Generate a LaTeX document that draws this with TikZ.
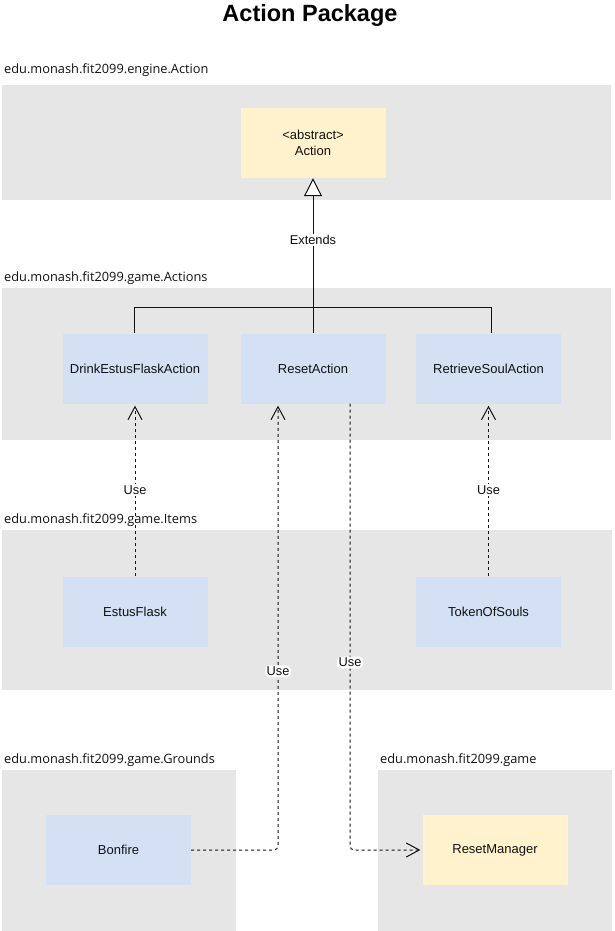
\documentclass[tikz,border=0pt]{standalone}
\usepackage{fontspec}
\setmainfont{Liberation Sans}
\newfontfamily\pkgfont{Open Sans}
\usetikzlibrary{arrows.meta}

\definecolor{pkggray}{HTML}{E6E6E6}
\definecolor{clsblue}{HTML}{D4E1F5}
\definecolor{clsyellow}{HTML}{FFF2CC}
\definecolor{ink}{HTML}{111111}

\tikzset{
  pkg/.style={fill=pkggray, draw=none, inner sep=0pt},
  pkglabel/.style={anchor=west, inner sep=0pt, font=\pkgfont\fontsize{12.8}{15}\selectfont, text=ink},
  cls/.style={draw=none, minimum width=145pt, minimum height=70pt, inner sep=0pt,
    align=center, font=\fontsize{13}{15.5}\selectfont, text=ink},
  blue/.style={cls, fill=clsblue},
  yellow/.style={cls, fill=clsyellow},
  solidline/.style={draw=ink, line width=1pt},
  extendsline/.style={solidline, -{Triangle[open, length=18pt, width=18pt, line width=1pt, fill=white]}},
  useline/.style={draw=ink, line width=1pt, dash pattern=on 3pt off 3pt,
    -{Straight Barb[length=13pt, width=14pt, line width=1pt]}, shorten >=2pt},
  edgelabel/.style={fill=white, inner sep=1.5pt, font=\fontsize{12.8}{15}\selectfont, text=ink}
}

\begin{document}
\begin{tikzpicture}[x=1pt, y=-1pt]
\useasboundingbox (0,0) rectangle (614,931);

% title
\node[font=\bfseries\fontsize{23.5}{27}\selectfont, text=black] (title) at (310,15) {Action Package};

% package areas
\node[pkg, minimum width=609pt, minimum height=115pt] (pEngine) at (306.5,142.5) {};
\node[pkg, minimum width=609pt, minimum height=152pt] (pActions) at (306.5,364) {};
\node[pkg, minimum width=610pt, minimum height=160pt] (pItems) at (307,610) {};
\node[pkg, minimum width=234pt, minimum height=161pt] (pGrounds) at (119,850.5) {};
\node[pkg, minimum width=234pt, minimum height=161pt] (pGame) at (495,850.5) {};

% package names
\node[pkglabel] (lEngine) at (4,70) {edu.monash.fit2099.engine.Action};
\node[pkglabel] (lActions) at (4,278) {edu.monash.fit2099.game.Actions};
\node[pkglabel] (lItems) at (4,520) {edu.monash.fit2099.game.Items};
\node[pkglabel] (lGrounds) at (4,760) {edu.monash.fit2099.game.Grounds};
\node[pkglabel] (lGame) at (380,760) {edu.monash.fit2099.game};

% classes
\node[yellow] (action) at (313,143) {<abstract>\\Action};
\node[blue] (drink) at (135,368.5) {DrinkEstusFlaskAction};
\node[blue] (reset) at (313,368.5) {ResetAction};
\node[blue] (retrieve) at (488.5,368.5) {RetrieveSoulAction};
\node[blue] (estus) at (135,611.5) {EstusFlask};
\node[blue] (token) at (488.5,611.5) {TokenOfSouls};
\node[blue] (bonfire) at (118.5,850) {Bonfire};
\node[yellow] (manager) at (495,850) {ResetManager};

% inheritance
\coordinate (bus) at (313,307);
\draw[solidline] ([xshift=-1pt]drink.north) |- (bus);
\draw[solidline] ([xshift=2.5pt]retrieve.north) |- (bus);
\draw[extendsline] (reset.north) -- (action.south)
  node[edgelabel, pos=0.6] {Extends};

% dependencies
\draw[useline] (estus.north) -- (drink.south) node[edgelabel, pos=0.5] {Use};
\draw[useline] (token.north) -- (retrieve.south) node[edgelabel, pos=0.5] {Use};
\draw[useline, rounded corners=4pt] (bonfire.east) -| ([xshift=-35pt]reset.south)
  node[edgelabel, pos=0.70] {Use};
\draw[useline, rounded corners=4pt] ([xshift=37pt]reset.south) |- (manager.west)
  node[edgelabel, pos=0.29] {Use};
\end{tikzpicture}
\end{document}
